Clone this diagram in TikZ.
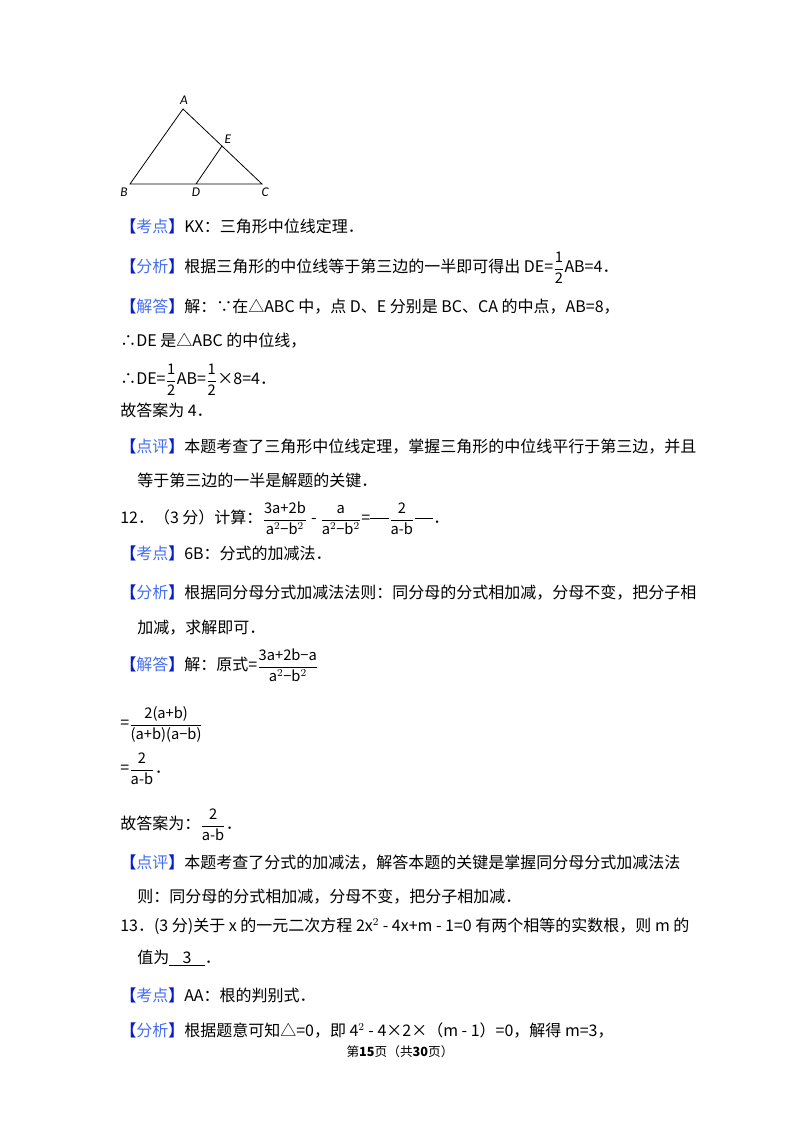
\documentclass[tikz,border=0pt]{standalone}
\usepackage{amsmath}
\usepackage{fontspec}
\setmainfont{Noto Sans CJK SC}
\newfontfamily\latf{Carlito}
\definecolor{kb}{RGB}{10,30,200}
\definecolor{kt}{RGB}{70,110,240}
\newcommand\kdtag[1]{{\color{kb}\textbf{【}}{\color{kt}#1}{\color{kb}\textbf{】}}}
\newcommand\fr[2]{\raisebox{-0.1ex}{$\dfrac{\text{\fontsize{11}{12}\selectfont #1}}{\text{\fontsize{11}{12}\selectfont #2}}$}}
\begin{document}
\begin{tikzpicture}[x=0.75pt,y=-0.75pt,
  ln/.style={anchor=base west,inner sep=0pt,font=\fontsize{12}{14}\selectfont},
  pt/.style={font=\itshape\fontsize{10}{12}\selectfont\latf,inner sep=1pt}]
\useasboundingbox (0,0) rectangle (800,1132);
\fill[white] (0,0) rectangle (800,1132);
% triangle
\coordinate (A) at (183,109);
\coordinate (B) at (130,184);
\coordinate (C) at (262,184);
\coordinate (D) at (196,184);
\coordinate (E) at (222,146);
\draw[line width=0.6pt] (A)--(B)--(C)--cycle (D)--(E);
\node[pt] (la) at (184,100) {A};
\node[pt] (lb) at (124,192) {B};
\node[pt] (lc) at (265,192) {C};
\node[pt] (ld) at (196,192) {D};
\node[pt] (le) at (228,139) {E};
% text
\node[ln] (t1) at (120,232) {\kdtag{考点}KX：三角形中位线定理．};
\node[ln] (t2) at (120,272) {\kdtag{分析}根据三角形的中位线等于第三边的一半即可得出 DE=\fr{1}{2}AB=4．};
\node[ln] (t3) at (120,312) {\kdtag{解答}解：∵在△ABC 中，点 D、E 分别是 BC、CA 的中点，AB=8，};
\node[ln] (t4) at (120,346) {∴DE 是△ABC 的中位线，};
\node[ln] (t5) at (120,384) {∴DE=\fr{1}{2}AB=\fr{1}{2}×8=4．};
\node[ln] (t6) at (120,416) {故答案为 4．};
\node[ln] (t7) at (120,452) {\kdtag{点评}本题考查了三角形中位线定理，掌握三角形的中位线平行于第三边，并且};
\node[ln] (t8) at (137,486) {等于第三边的一半是解题的关键．};
\node[ln] (t9) at (120,523) {12．（3 分）计算：\fr{3a+2b}{a$^2$−b$^2$} - \fr{a}{a$^2$−b$^2$}=\rule[0.5ex]{14pt}{0.4pt}\fr{2}{a-b}\rule[0.5ex]{14pt}{0.4pt}．};
\node[ln] (t10) at (120,559) {\kdtag{考点}6B：分式的加减法．};
\node[ln] (t11) at (120,598) {\kdtag{分析}根据同分母分式加减法法则：同分母的分式相加减，分母不变，把分子相};
\node[ln] (t12) at (137,633) {加减，求解即可．};
\node[ln] (t13) at (120,670) {\kdtag{解答}解：原式=\fr{3a+2b−a}{a$^2$−b$^2$}};
\node[ln] (t14) at (120,728) {=\fr{2(a+b)}{(a+b)(a−b)}};
\node[ln] (t15) at (120,773) {=\fr{2}{a-b}．};
\node[ln] (t16) at (120,829) {故答案为：\fr{2}{a-b}．};
\node[ln] (t17) at (120,868) {\kdtag{点评}本题考查了分式的加减法，解答本题的关键是掌握同分母分式加减法法};
\node[ln] (t18) at (137,902) {则：同分母的分式相加减，分母不变，把分子相加减．};
\node[ln] (t19) at (120,931) {13．(3 分)关于 x 的一元二次方程 2x$^2$ - 4x+m - 1=0 有两个相等的实数根，则 m 的};
\node[ln] (t20) at (137,963) {值为\underline{\hspace{10pt}3\hspace{10pt}}．};
\node[ln] (t21) at (120,1001) {\kdtag{考点}AA：根的判别式．};
\node[ln] (t22) at (120,1036) {\kdtag{分析}根据题意可知△=0，即 4$^2$ - 4×2×（m - 1）=0，解得 m=3，};
\node[anchor=base,inner sep=0pt,font=\fontsize{9.5}{11}\selectfont] (ft) at (400,1056) {第\textbf{15}页（共\textbf{30}页）};
\end{tikzpicture}
\end{document}
